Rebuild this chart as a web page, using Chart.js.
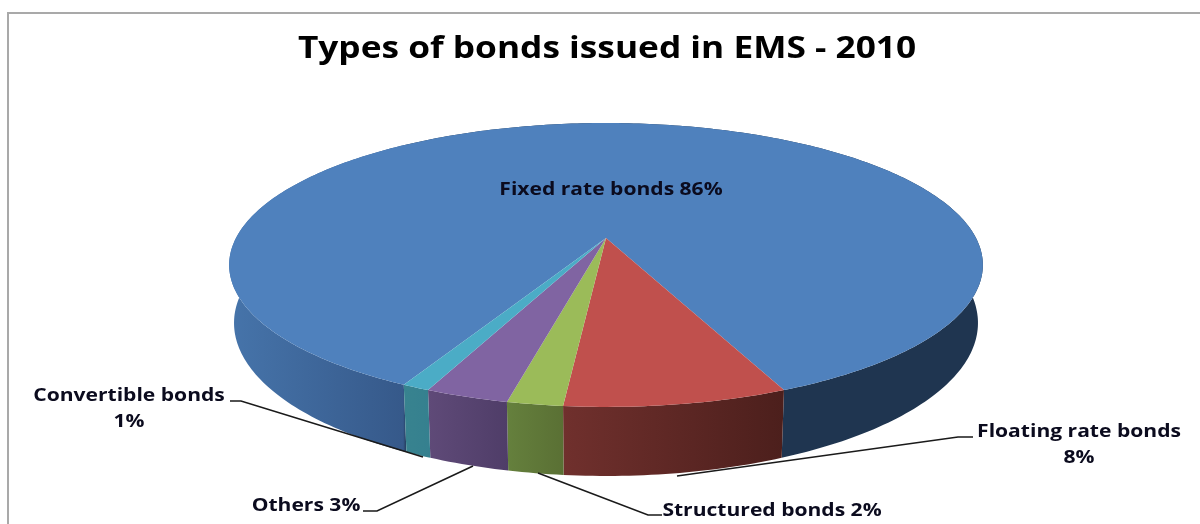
<!DOCTYPE html>
<html>
<head>
<meta charset="utf-8">
<title>Types of bonds issued in EMS - 2010</title>
<script src="https://cdn.jsdelivr.net/npm/chart.js@4"></script>
<style>
  html, body { margin: 0; padding: 0; background: #fff; overflow: hidden; }
  canvas { display: block; }
</style>
</head>
<body>
<canvas id="bondsChart" width="1200" height="524"></canvas>
<script>
const chartTitle = 'Types of bonds issued in EMS - 2010';
const categories = ['Fixed rate bonds', 'Floating rate bonds', 'Structured bonds', 'Others', 'Convertible bonds'];
const shares = [86, 8, 2, 3, 1];
const topColors = ['#4f81bd', '#c0504d', '#9bbb59', '#8064a2', '#4bacc6'];

// wall shading, left to right across each slice's side
const wallColors = [
    [[0, '#4674aa'], [0.23, '#36598a'], [0.235, '#1f3550'], [1, '#1f3550']],
    [[0, '#70302d'], [1, '#4c1f1c']],
    [[0, '#65803d'], [1, '#5a7034']],
    [[0, '#5f4a78'], [1, '#4f3d68']],
    [[0, '#38838f'], [1, '#35808f']]
];

// where each label sits and how its leader runs
const labelStyle = [
    { lines: ['Fixed rate bonds 86%'], x: 611, y: 195 },
    { lines: ['Floating rate bonds', '8%'], x: 1079, y: 437, leader: [[973, 437], [958, 437], [677, 476]] },
    { lines: ['Structured bonds 2%'], x: 772, y: 516, leader: [[662, 515], [648, 515], [538, 473]] },
    { lines: ['Others 3%'], x: 306, y: 511, leader: [[363, 511], [377, 511], [473, 466]] },
    { lines: ['Convertible bonds', '1%'], x: 129, y: 401, leader: [[230, 401], [241, 401], [423, 457]] }
];

// the tilted disc: a circle seen in perspective, so the centre sits above the ellipse middle
const tilt = -0.19;
const topRim = { x: 606, b: 238, a: 91.6, d: 370 };
const bottomRim = { x: 606, b: 293.9, a: 91.6, d: 365.2 };

function project(rim, angle) {
    const u = Math.cos(angle);
    const v = Math.sin(angle);
    const w = 1 + tilt * v;
    return [rim.x + rim.d * u / w, (rim.b + rim.a * v) / w];
}

function rimPoints(rim, start, end) {
    const steps = Math.max(6, Math.ceil((end - start) * 60));
    const pts = [];
    for (let i = 0; i <= steps; i++) {
        pts.push(project(rim, start + (end - start) * i / steps));
    }
    return pts;
}

function tracePath(ctx, pts) {
    pts.forEach((p, i) => i ? ctx.lineTo(p[0], p[1]) : ctx.moveTo(p[0], p[1]));
}

// the reference text is stretched sideways
function wideText(ctx, text, x, y, stretch) {
    ctx.save();
    ctx.translate(x, y);
    ctx.scale(stretch, 1);
    ctx.fillText(text, 0, 0);
    ctx.restore();
}

const perspectivePie = {
    id: 'perspectivePie',
    beforeDraw(chart) {
        const ctx = chart.ctx;
        ctx.save();
        ctx.strokeStyle = '#a9a9a9';
        ctx.lineWidth = 2;
        ctx.beginPath();
        ctx.moveTo(8, 524);
        ctx.lineTo(8, 13);
        ctx.lineTo(1200, 13);
        ctx.stroke();
        ctx.restore();
    },
    beforeDatasetsDraw(chart) {
        const ctx = chart.ctx;
        const arcs = chart.getDatasetMeta(0).data;
        ctx.save();

        // side walls first, the top covers whatever is behind it
        arcs.forEach((arc, i) => {
            const upper = rimPoints(topRim, arc.startAngle, arc.endAngle);
            const lower = rimPoints(bottomRim, arc.startAngle, arc.endAngle).reverse();
            const xs = upper.concat(lower).map(p => p[0]);
            const left = i === 0 ? 230 : Math.min(...xs);
            const right = i === 0 ? 983 : Math.max(...xs);
            const grad = ctx.createLinearGradient(left, 0, right, 0);
            wallColors[i].forEach(s => grad.addColorStop(s[0], s[1]));
            ctx.fillStyle = grad;
            ctx.beginPath();
            tracePath(ctx, upper.concat(lower));
            ctx.closePath();
            ctx.fill();
        });

        arcs.forEach((arc, i) => {
            ctx.fillStyle = topColors[i];
            ctx.beginPath();
            ctx.moveTo(topRim.x, topRim.b);
            rimPoints(topRim, arc.startAngle, arc.endAngle).forEach(p => ctx.lineTo(p[0], p[1]));
            ctx.closePath();
            ctx.fill();
        });

        ctx.restore();
        return false;
    },
    afterDraw(chart) {
        const ctx = chart.ctx;
        ctx.save();
        ctx.strokeStyle = '#1a1a1a';
        ctx.lineWidth = 1.6;
        labelStyle.forEach(l => {
            if (!l.leader) return;
            ctx.beginPath();
            tracePath(ctx, l.leader);
            ctx.stroke();
        });
        ctx.textAlign = 'center';
        ctx.textBaseline = 'alphabetic';
        ctx.fillStyle = '#000';
        ctx.font = 'bold 30px "Open Sans"';
        wideText(ctx, chartTitle, 607, 58, 1.175);
        ctx.fillStyle = '#0b0b1e';
        ctx.font = 'bold 18px "Open Sans"';
        labelStyle.forEach(l => {
            l.lines.forEach((line, n) => wideText(ctx, line, l.x, l.y + n * 25.5, 1.17));
        });
        ctx.restore();
    }
};

new Chart(document.getElementById('bondsChart'), {
    type: 'pie',
    data: {
        labels: categories,
        datasets: [{
            data: shares,
            backgroundColor: topColors,
            borderWidth: 0
        }]
    },
    options: {
        responsive: false,
        animation: false,
        rotation: 207,
        layout: { padding: 0 },
        plugins: {
            legend: { display: false },
            tooltip: { enabled: false }
        }
    },
    plugins: [perspectivePie]
});
</script>
</body>
</html>
